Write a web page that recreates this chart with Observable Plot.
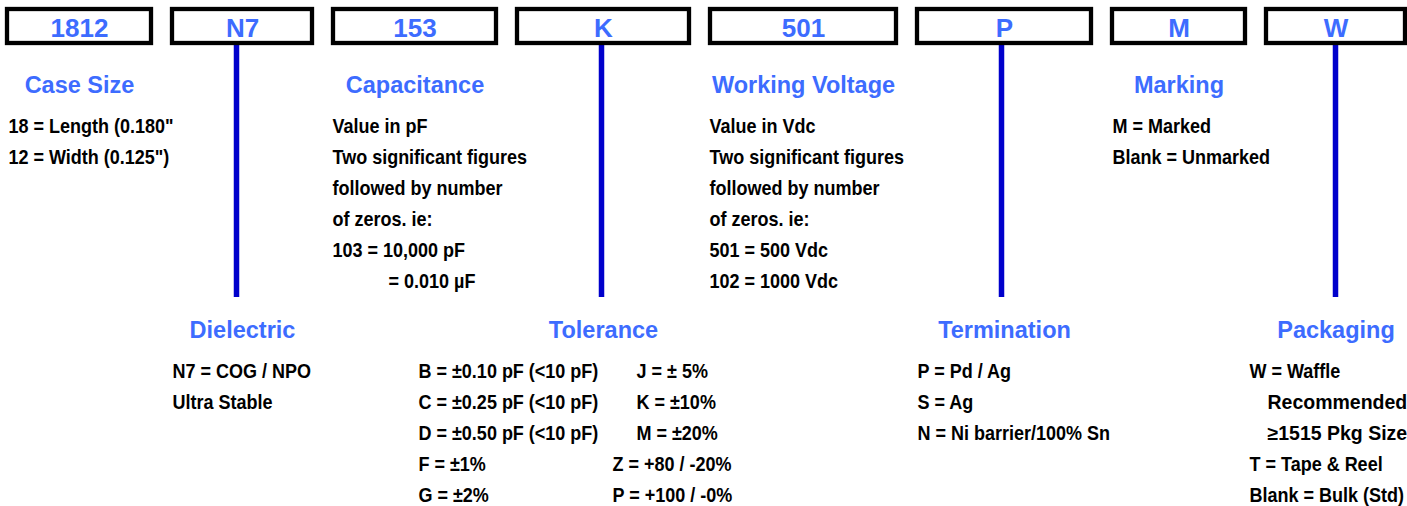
<!DOCTYPE html>
<html>
<head>
<meta charset="utf-8">
<script src="https://cdn.jsdelivr.net/npm/d3@7"></script>
<script src="https://cdn.jsdelivr.net/npm/@observablehq/plot@0.6"></script>
<style>
  html, body { margin: 0; padding: 0; background: #ffffff; }
  #chart svg { display: block; }
</style>
</head>
<body>
<div id="chart"></div>
<script>
// ---------- content ----------
const codes = ["1812", "N7", "153", "K", "501", "P", "M", "W"];
const fields = ["Case Size", "Dielectric", "Capacitance", "Tolerance", "Working Voltage", "Termination", "Marking", "Packaging"];
const caseSizeLines = ['18 = Length (0.180"', '12 = Width (0.125")'];
const dielectricLines = ["N7 = COG / NPO", "Ultra Stable"];
const capacitanceLines = ["Value in pF", "Two significant figures", "followed by number", "of zeros. ie:", "103 = 10,000 pF", "= 0.010 µF"];
const toleranceLeft = ["B = ±0.10 pF (<10 pF)", "C = ±0.25 pF (<10 pF)", "D = ±0.50 pF (<10 pF)", "F = ±1%", "G = ±2%"];
const toleranceRight = ["J = ± 5%", "K = ±10%", "M = ±20%", "Z = +80 / -20%", "P = +100 / -0%"];
const voltageLines = ["Value in Vdc", "Two significant figures", "followed by number", "of zeros. ie:", "501 = 500 Vdc", "102 = 1000 Vdc"];
const terminationLines = ["P = Pd / Ag", "S = Ag", "N = Ni barrier/100% Sn"];
const markingLines = ["M = Marked", "Blank = Unmarked"];
const packagingLines = ["W = Waffle", "Recommended", "≥1515 Pkg Size", "T = Tape & Reel", "Blank = Bulk (Std)"];

// ---------- layout ----------
const W = 1407, H = 506;
const boxX = [[7, 151], [172, 312], [333, 496], [517, 689], [710, 896], [917, 1091], [1112, 1245], [1266, 1405]];
const boxY = [9, 43];
const stemX = [236, 601, 1001, 1335];
const stemY = [43, 297];
const headY = [92, 337];
const lineY0 = [132, 377];
const lineStep = 31;
const blue = "#3d6cff";
const stemBlue = "#0000cc";
const squeeze = 0.9;

const boxes = codes.map((c, i) => ({code: c, x1: boxX[i][0], x2: boxX[i][1], y1: boxY[0], y2: boxY[1], cx: (boxX[i][0] + boxX[i][1]) / 2}));
const stems = stemX.map(x => ({x, y1: stemY[0], y2: stemY[1]}));
const heads = fields.map((f, i) => ({text: f, x: boxes[i].cx, y: headY[i % 2]}));

const rows = [];
function addLines(lines, x, row, opts = {}) {
  lines.forEach((t, j) => {
    const xi = (opts.xs && opts.xs[j] != null) ? opts.xs[j] : x;
    rows.push({text: t, x: xi, y: lineY0[row] + lineStep * j, wide: opts.wide ? opts.wide.includes(j) : false});
  });
}
addLines(caseSizeLines, 8, 0);
addLines(capacitanceLines, 332, 0, {xs: [null, null, null, null, null, 388]});
addLines(voltageLines, 709, 0);
addLines(markingLines, 1112, 0);
addLines(dielectricLines, 172, 1);
addLines(toleranceLeft, 418, 1);
addLines(toleranceRight, 636, 1, {xs: [null, null, null, 612, 612]});
addLines(terminationLines, 917, 1);
addLines(packagingLines, 1249, 1, {xs: [null, 1267, 1267, null, null], wide: [1, 2]});

const font = "'Liberation Sans', Arial, Helvetica, sans-serif";

const chart = Plot.plot({
  width: W,
  height: H,
  margin: 0,
  x: {domain: [0, W], range: [0, W], axis: null},
  y: {domain: [0, H], range: [0, H], axis: null},
  style: {fontFamily: font, background: "#ffffff"},
  marks: [
    Plot.ruleX(stems, {x: "x", y1: "y1", y2: "y2", stroke: stemBlue, strokeWidth: 5.5}),
    Plot.rect(boxes, {x1: "x1", x2: "x2", y1: "y1", y2: "y2", fill: "white", stroke: "black", strokeWidth: 4.3}),
    Plot.text(boxes, {x: "cx", y: () => 36, text: "code", fill: blue, fontSize: 26, fontWeight: "bold", lineAnchor: "bottom"}),
    Plot.text(heads, {x: "x", y: "y", text: "text", fill: blue, fontSize: 23.5, fontWeight: "bold", lineAnchor: "bottom"}),
    Plot.text(rows.filter(d => !d.wide), {x: "x", y: "y", text: "text", fill: "black", fontSize: 20, fontWeight: "bold", textAnchor: "start", lineAnchor: "bottom"}),
    Plot.text(rows.filter(d => d.wide), {x: "x", y: "y", text: "text", fill: "black", fontSize: 19.5, fontWeight: "bold", textAnchor: "start", lineAnchor: "bottom"})
  ]
});

// condensed look of the body text (horizontal compression around each line's start)
const textGroups = chart.querySelectorAll('g[aria-label="text"]');
const narrowGroup = textGroups[2];
if (narrowGroup) {
  narrowGroup.querySelectorAll("text").forEach(el => {
    const t = el.getAttribute("transform");
    if (t) {
      el.setAttribute("transform", t + ` scale(${squeeze},1)`);
    } else {
      const x = +(el.getAttribute("x") || 0);
      el.setAttribute("x", x / squeeze);
      el.setAttribute("transform", `scale(${squeeze},1)`);
    }
  });
}

document.getElementById("chart").appendChild(chart);
</script>
</body>
</html>
